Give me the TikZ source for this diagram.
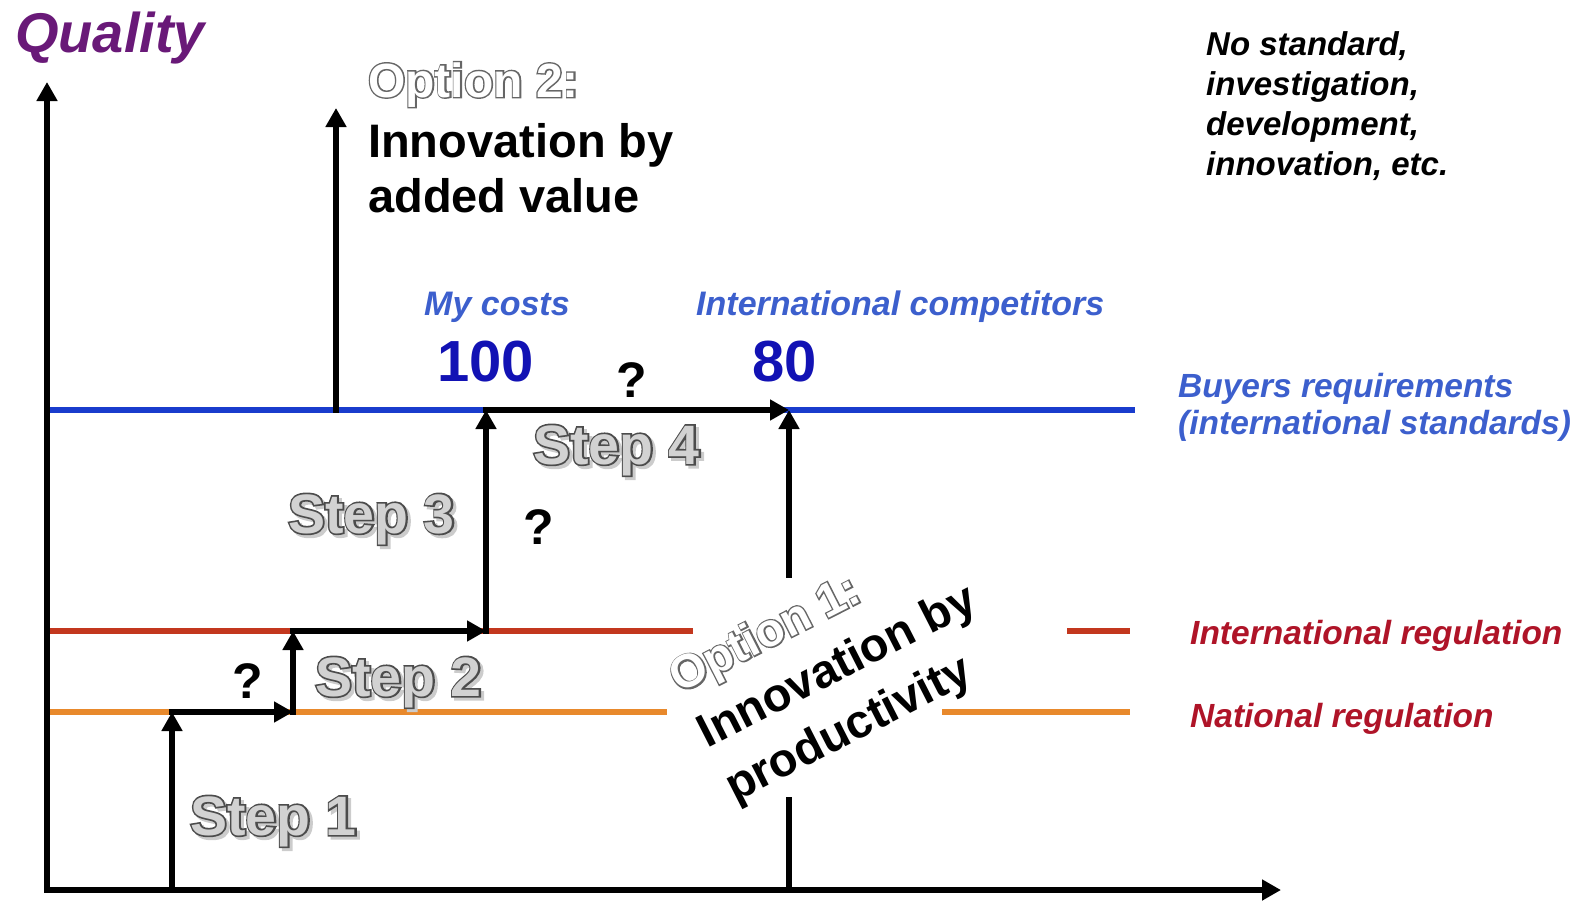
\documentclass[tikz,border=0pt]{standalone}
\usepackage{fontspec}
\setmainfont{Liberation Sans}
\newfontfamily\olfont[FakeBold=6]{Liberation Sans Bold}
\usetikzlibrary{arrows.meta}
\definecolor{qpurple}{RGB}{105,25,120}
\definecolor{blueline}{RGB}{25,60,205}
\definecolor{bluetxt}{RGB}{60,95,205}
\definecolor{bluenum}{RGB}{18,18,180}
\definecolor{redline}{RGB}{195,55,30}
\definecolor{redtxt}{RGB}{175,20,40}
\definecolor{orangeline}{RGB}{232,137,44}
\newcommand\hollowtxt[1]{\makebox[0pt][l]{\hspace{3pt}\raisebox{-3pt}{\color{gray!40}\olfont\mdseries #1}}\makebox[0pt][l]{\color{black!70}\olfont\mdseries #1}{\color{gray!35}#1}}
\newcommand\hollowopt[1]{\makebox[0pt][l]{\color{black!60}\olfont\mdseries #1}{\color{white}#1}}
\begin{document}
\begin{tikzpicture}[x=1pt,y=-1pt,
  ln/.style={line width=6pt},
  arr/.style={line width=5.2pt, line cap=rect, -{Triangle[length=19pt,width=20pt]}},
  txt/.style={inner sep=0pt, anchor=base west},
  bi/.style={font=\fontsize{#1}{#1}\selectfont\bfseries\itshape},
  bo/.style={font=\fontsize{#1}{#1}\selectfont\bfseries}]
\useasboundingbox (0,0) rectangle (1582,902);
% coordinates
\coordinate (O) at (47,890);
\coordinate (Ytip) at (47,82);
\coordinate (Xtip) at (1281,890);
\coordinate (B0) at (47,410);
\coordinate (B1) at (1135,410);
\coordinate (R0) at (47,631);
\coordinate (R1) at (693,631);
\coordinate (R2) at (1067,631);
\coordinate (R3) at (1130,631);
\coordinate (N0) at (47,712);
\coordinate (N1) at (667,712);
\coordinate (N2) at (942,712);
\coordinate (N3) at (1130,712);
\coordinate (S1a) at (172,890);
\coordinate (S1b) at (172,712);
\coordinate (S2a) at (293,712);
\coordinate (S2b) at (293,631);
\coordinate (S3a) at (486,631);
\coordinate (S3b) at (486,410);
\coordinate (S4b) at (789,410);
\coordinate (P2a) at (336,410);
\coordinate (P2b) at (336,108);
\coordinate (P1a) at (789,890);
\coordinate (P1b) at (789,797);
\coordinate (P1c) at (789,575);
% coloured levels
\draw[ln, blueline] (B0) -- (B1);
\draw[ln, redline] (R0) -- (R1);
\draw[ln, redline] (R2) -- (R3);
\draw[ln, orangeline] (N0) -- (N1);
\draw[ln, orangeline] (N2) -- (N3);
% axes
\draw[arr] (O) -- (Ytip);
\draw[arr] (O) -- (Xtip);
% steps
\draw[arr] (S1a) -- (S1b);
\draw[arr] (S1b) -- (S2a);
\draw[arr] (S2a) -- (S2b);
\draw[arr] (S2b) -- (S3a);
\draw[arr] (S3a) -- (S3b);
\draw[arr] (S3b) -- (S4b);
\draw[arr] (P2a) -- (P2b);
\draw[line width=5.2pt] (P1a) -- (P1b);
\draw[arr] (P1c) -- (S4b);
% texts
\node[txt, bi=56, text=qpurple] (quality) at (15,52) {Quality};
\node[txt, bo=48] (opt2) at (368,97) {\hollowopt{Option 2:}};
\node[txt, bo=47] (opt2a) at (368,157) {Innovation by};
\node[txt, bo=47] (opt2b) at (368,212) {added value};
\node[txt, bi=33] (nos1) at (1206,55) {No standard,};
\node[txt, bi=33] (nos2) at (1206,95) {investigation,};
\node[txt, bi=33] (nos3) at (1206,135) {development,};
\node[txt, bi=33] (nos4) at (1206,175) {innovation, etc.};
\node[txt, bi=34, text=bluetxt] (mycost) at (424,315) {My costs};
\node[txt, bi=34, text=bluetxt] (intcomp) at (696,315) {International competitors};
\node[txt, bo=58, text=bluenum] (n100) at (437,381) {100};
\node[txt, bo=58, text=bluenum] (n80) at (752,381) {80};
\node[txt, bo=50] (q4) at (616,397) {?};
\node[txt, bo=50] (q3) at (523,544) {?};
\node[txt, bo=50] (q2) at (232,698) {?};
\node[txt, bi=33.5, text=bluetxt] (buy1) at (1178,397) {Buyers requirements};
\node[txt, bi=33.5, text=bluetxt] (buy2) at (1178,434) {(international standards)};
\node[txt, bi=33.5, text=redtxt] (intreg) at (1190,644) {International regulation};
\node[txt, bi=33.5, text=redtxt] (natreg) at (1190,727) {National regulation};
\node[txt, bo=55.5] (st1) at (190,835) {\hollowtxt{Step 1}};
\node[txt, bo=55.5] (st2) at (315,696) {\hollowtxt{Step 2}};
\node[txt, bo=55.5] (st3) at (288,533) {\hollowtxt{Step 3}};
\node[txt, bo=55.5] (st4) at (533,464) {\hollowtxt{Step 4}};
\node[inner sep=0pt, rotate=27, align=left, font=\fontsize{47}{61}\selectfont\bfseries] (opt1) at (838,668)
  {\hollowopt{Option 1:}\\Innovation by\\productivity};
\end{tikzpicture}
\end{document}
